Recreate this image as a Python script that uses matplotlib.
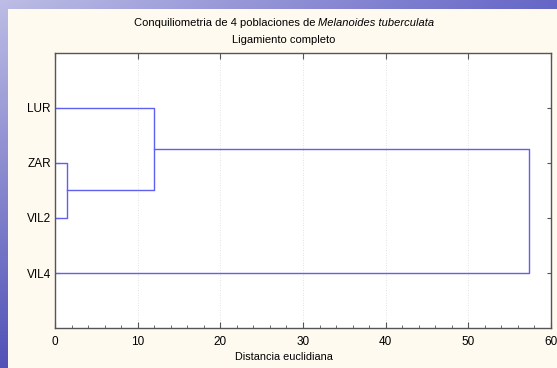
import numpy as np
import matplotlib
matplotlib.use('Agg')
import matplotlib.pyplot as plt
from matplotlib.patches import Rectangle
from matplotlib.ticker import MultipleLocator

plt.rcParams['font.family'] = ['Liberation Sans', 'DejaVu Sans']

# leaves in display order (top -> bottom)
leaves = ['LUR', 'ZAR', 'VIL2', 'VIL4']
# merges: (left member, right member, distance); members >= 4 are earlier clusters
merges = [(1, 2, 1.5), (0, 4, 12.0), (5, 3, 57.3)]

line_col = '#5f5ff0'

fig = plt.figure(figsize=(5.57, 3.68), dpi=100)

# slide background gradient + cream panel
bg = fig.add_axes([0, 0, 1, 1])
bg.set_axis_off()
xx, yy = np.meshgrid(np.linspace(0, 1, 200), np.linspace(0, 1, 200))
tl = np.array([0.74, 0.74, 0.90])
tr = np.array([0.40, 0.40, 0.78])
bl = np.array([0.32, 0.32, 0.72])
br = np.array([0.30, 0.30, 0.70])
img = ((1 - xx)[..., None] * (1 - yy)[..., None] * tl + xx[..., None] * (1 - yy)[..., None] * tr
       + (1 - xx)[..., None] * yy[..., None] * bl + xx[..., None] * yy[..., None] * br)
bg.imshow(img, extent=[0, 1, 0, 1], aspect='auto', origin='upper')
bg.add_patch(Rectangle((8 / 557, 0), 1, 1 - 9 / 368, facecolor='#fffaf0', edgecolor='none'))
bg.set_xlim(0, 1)
bg.set_ylim(0, 1)

ax = fig.add_axes([55 / 557, 40 / 368, 496 / 557, 275 / 368])
ax.set_facecolor('white')

# draw dendrogram
pos = {i: i + 1 for i in range(len(leaves))}
hgt = {i: 0.0 for i in range(len(leaves))}
for k, (a, b, d) in enumerate(merges):
    ya, yb = pos[a], pos[b]
    ax.plot([hgt[a], d, d, hgt[b]], [ya, ya, yb, yb], color=line_col, lw=1)
    new = len(leaves) + k
    pos[new] = (ya + yb) / 2
    hgt[new] = d

ax.set_xlim(0, 60)
ax.set_ylim(5, 0)
ax.set_yticks(range(1, len(leaves) + 1))
ax.set_yticklabels(leaves)
ax.xaxis.set_major_locator(MultipleLocator(10))
ax.xaxis.set_minor_locator(MultipleLocator(2))
ax.tick_params(axis='both', which='both', direction='in', top=True, right=True,
               labelsize=8.5, colors='#555555', labelcolor='black')
ax.tick_params(axis='x', which='major', length=4, pad=6)
ax.tick_params(axis='x', which='minor', length=2)
ax.tick_params(axis='x', which='minor', top=False)
ax.tick_params(axis='y', length=3, pad=3)
ax.grid(axis='x', which='major', linestyle=(0, (1, 2)), color='#d8d8d8', lw=0.6)
for s in ax.spines.values():
    s.set_color('#555555')
    s.set_linewidth(1)

# titles, centred on the panel
cx = 284 / 557
t1 = fig.text(0, 1 - 23 / 368, 'Conquiliometria de 4 poblaciones de ', fontsize=8, va='center', ha='left')
t2 = fig.text(0, 1 - 23 / 368, 'Melanoides tuberculata', fontsize=8, style='italic', va='center', ha='left')
fig.canvas.draw()
r = fig.canvas.get_renderer()
w1 = t1.get_window_extent(r).width / fig.bbox.width
w2 = t2.get_window_extent(r).width / fig.bbox.width
x0 = cx - (w1 + w2) / 2
t1.set_x(x0)
t2.set_x(x0 + w1)
fig.text(cx, 1 - 40 / 368, 'Ligamiento completo', fontsize=8, va='center', ha='center')
fig.text(cx, 1 - 357 / 368, 'Distancia euclidiana', fontsize=7.8, va='center', ha='center')

fig.savefig('out.png', dpi=100)
